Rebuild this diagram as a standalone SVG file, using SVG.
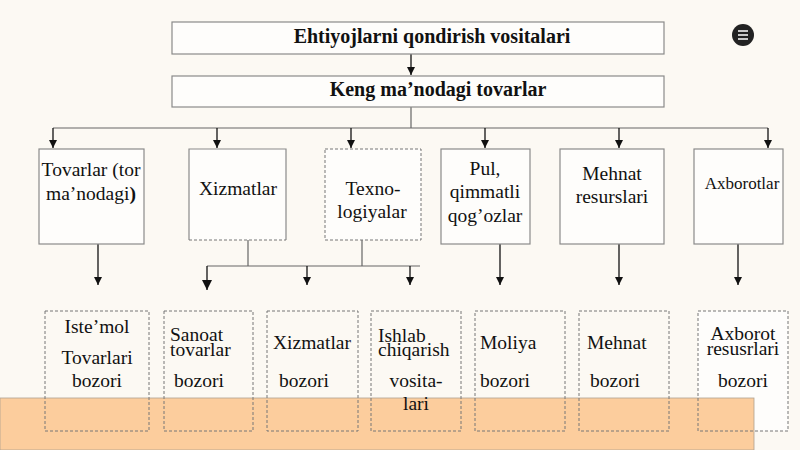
<svg xmlns="http://www.w3.org/2000/svg" width="800" height="450" viewBox="0 0 800 450">
<defs>
<marker id="ah" markerWidth="8" markerHeight="8" refX="8" refY="4" orient="auto" markerUnits="userSpaceOnUse" viewBox="0 0 8 8">
<path d="M0,0 L8,4 L0,8 Z" fill="#111"/>
</marker>
<marker id="ahb" markerWidth="10" markerHeight="10" refX="10" refY="5" orient="auto" markerUnits="userSpaceOnUse" viewBox="0 0 10 10">
<path d="M0,0 L10,5 L0,10 Z" fill="#111"/>
</marker>
<style>
.bx{fill:#fefdfb;stroke:#8a8a8a;stroke-width:1.2}
.dbx{fill:#fefdfb;stroke:#777;stroke-width:1;stroke-dasharray:3 2}
.dbx3{fill:none;stroke:#777;stroke-width:1;stroke-dasharray:3 2}
.t{font-family:"Liberation Serif","Times New Roman",serif;fill:#111;text-anchor:middle}
.b{font-weight:bold;font-size:20px}
.m{font-size:19.5px}
.s{font-size:17px}
.ar{stroke:#111;stroke-width:1.3;fill:none;marker-end:url(#ah)}
.ln{stroke:#666;stroke-width:1.2;fill:none}
</style>
</defs>
<rect width="800" height="450" fill="#fcf9f3"/>
<rect x="45" y="311" width="743" height="120" fill="none"/>
<rect x="698" y="311" width="90" height="120" fill="#fefdfb"/>
<rect x="0" y="398" width="754" height="52" fill="#fccd9d" stroke="#b0a090" stroke-width="0.8"/>

<g id="connectors">
<path class="ar" d="M411,54 V75"/>
<path class="ln" d="M411,107 V128 M53,128 H768"/>
<path class="ar" d="M53,128 V148"/>
<path class="ar" d="M217,128 V148"/>
<path class="ar" d="M351,128 V148"/>
<path class="ar" d="M485,128 V148"/>
<path class="ar" d="M619,128 V148"/>
<path class="ar" d="M768,128 V148"/>
<path class="ar" d="M98,244 V285"/>
<path class="ln" d="M248,240 V266 M362,240 V266 M207,266 H420"/>
<path class="ar" d="M207,266 V290" style="marker-end:url(#ahb)"/>
<path class="ar" d="M307,266 V285"/>
<path class="ar" d="M410,266 V285"/>
<path class="ar" d="M500,244 V285"/>
<path class="ar" d="M619,244 V285"/>
<path class="ar" d="M738,244 V285"/>
</g>

<g id="n-ehtiyoj">
<rect class="bx" x="172" y="22" width="492" height="32"/>
<text class="t b" x="432" y="43">Ehtiyojlarni qondirish vositalari</text>
</g>
<g id="n-keng">
<rect class="bx" x="172" y="76" width="492" height="31"/>
<text class="t b" x="438" y="96">Keng ma’nodagi tovarlar</text>
</g>

<g id="n-tovarlar">
<rect class="bx" x="39" y="149" width="105" height="95"/>
<text class="t m" x="91" y="176">Tovarlar (tor</text>
<text class="t m" x="91" y="200">ma’nodagi<tspan font-weight="bold">)</tspan></text>
</g>
<g id="n-xizmatlar">
<path d="M189,240 V149 H286 V240" fill="#fefdfb" stroke="#8a8a8a" stroke-width="1.2"/>
<path d="M189,240 H286" stroke="#777" stroke-width="1" stroke-dasharray="3 2"/>
<text class="t m" x="238" y="195">Xizmatlar</text>
</g>
<g id="n-texno">
<rect class="dbx" x="325" y="149" width="96" height="91"/>
<text class="t m" x="373" y="195">Texno-</text>
<text class="t m" x="372" y="218">logiyalar</text>
</g>
<g id="n-pul">
<rect class="bx" x="441" y="149" width="89" height="95"/>
<text class="t m" x="485" y="175">Pul,</text>
<text class="t m" x="485" y="198">qimmatli</text>
<text class="t m" x="485" y="222">qog’ozlar</text>
</g>
<g id="n-mehnat">
<rect class="bx" x="560" y="149" width="104" height="95"/>
<text class="t m" x="612" y="180">Mehnat</text>
<text class="t m" x="612" y="203">resurslari</text>
</g>
<g id="n-axborotlar">
<rect class="bx" x="694" y="149" width="89" height="95"/>
<text class="t s" x="742" y="189">Axborotlar</text>
</g>

<g id="n-istemol">
<rect class="dbx3" x="45" y="311" width="104" height="120"/>
<text class="t m" x="97" y="333">Iste’mol</text>
<text class="t m" x="97" y="364">Tovarlari</text>
<text class="t m" x="97" y="387">bozori</text>
</g>
<g id="n-sanoat">
<rect class="dbx3" x="164" y="311" width="89" height="120"/>
<text class="t m" x="170" y="341" style="text-anchor:start">Sanoat</text>
<text class="t m" x="170" y="356" style="text-anchor:start">tovarlar</text>
<text class="t m" x="199" y="387">bozori</text>
</g>
<g id="n-xizmat-bozor">
<rect class="dbx3" x="267" y="311" width="91" height="120"/>
<text class="t m" x="312" y="349">Xizmatlar</text>
<text class="t m" x="304" y="387">bozori</text>
</g>
<g id="n-ishlab">
<rect class="dbx3" x="371" y="311" width="90" height="120"/>
<text class="t m" x="378" y="342" style="text-anchor:start">Ishlab</text>
<text class="t m" x="378" y="356" style="text-anchor:start">chiqarish</text>
<text class="t m" x="416" y="387">vosita-</text>
<text class="t m" x="416" y="410">lari</text>
</g>
<g id="n-moliya">
<rect class="dbx3" x="475" y="311" width="90" height="120"/>
<text class="t m" x="480" y="349" style="text-anchor:start">Moliya</text>
<text class="t m" x="480" y="387" style="text-anchor:start">bozori</text>
</g>
<g id="n-mehnat-bozor">
<rect class="dbx3" x="579" y="311" width="90" height="120"/>
<text class="t m" x="587" y="349" style="text-anchor:start">Mehnat</text>
<text class="t m" x="615" y="387">bozori</text>
</g>
<g id="n-axborot-bozor">
<rect class="dbx3" x="698" y="311" width="90" height="120"/>
<text class="t m" x="743" y="340">Axborot</text>
<text class="t m" x="743" y="355">resusrlari</text>
<text class="t m" x="743" y="387">bozori</text>
</g>

<g id="menu-icon">
<circle cx="743" cy="35" r="11" fill="#222"/>
<path d="M738,31 H748 M738,35 H748 M738,39 H748" stroke="#fff" stroke-width="1.5"/>
</g>
</svg>
